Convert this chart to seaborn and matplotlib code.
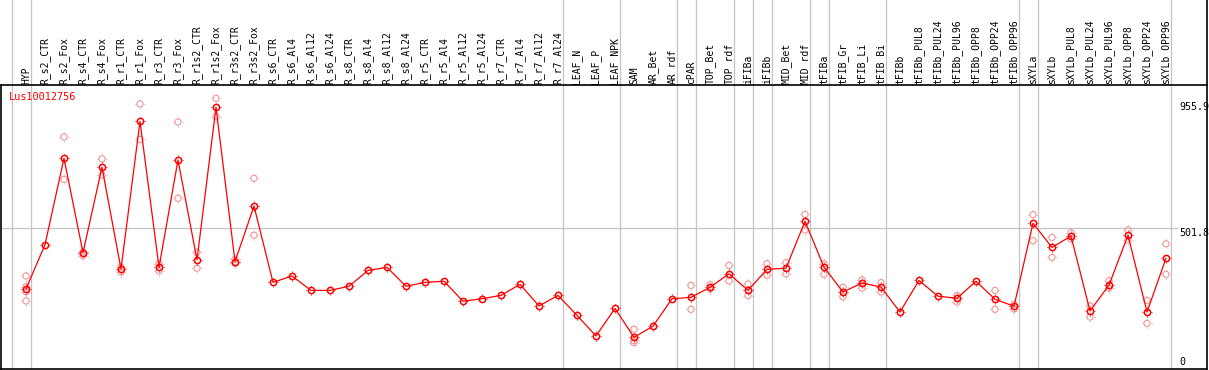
import numpy as np
import pandas as pd
import matplotlib
matplotlib.use("Agg")
import matplotlib.pyplot as plt
from matplotlib.path import Path
import seaborn as sns

# sample names (column headers)
samples = [
    "HYP", "R_s2_CTR", "R_s2_Fox", "R_s4_CTR", "R_s4_Fox", "R_r1_CTR", "R_r1_Fox",
    "R_r3_CTR", "R_r3_Fox", "R_r1s2_CTR", "R_r1s2_Fox", "R_r3s2_CTR", "R_r3s2_Fox",
    "R_s6_CTR", "R_s6_Al4", "R_s6_Al12", "R_s6_Al24", "R_s8_CTR", "R_s8_Al4",
    "R_s8_Al12", "R_s8_Al24", "R_r5_CTR", "R_r5_Al4", "R_r5_Al12", "R_r5_Al24",
    "R_r7_CTR", "R_r7_Al4", "R_r7_Al12", "R_r7_Al24", "LEAF_N", "LEAF_P", "LEAF_NPK",
    "SAM", "AR_Bet", "AR_rdf", "cPAR", "TOP_Bet", "TOP_rdf", "iFIBa", "iFIBb",
    "MID_Bet", "MID_rdf", "tFIBa", "tFIB_Gr", "tFIB_Li", "tFIB_Bi", "tFIBb",
    "tFIBb_PUL8", "tFIBb_PUL24", "tFIBb_PUL96", "tFIBb_OPP8", "tFIBb_OPP24",
    "tFIBb_OPP96", "sXYLa", "sXYLb", "sXYLb_PUL8", "sXYLb_PUL24", "sXYLb_PUL96",
    "sXYLb_OPP8", "sXYLb_OPP24", "sXYLb_OPP96",
]

# mean expression per sample
means = [
    281, 441, 752, 412, 720, 353, 885, 359, 746, 386, 936, 380, 580,
    305, 328, 276, 276, 291, 348, 359, 291, 305, 309, 237, 246,
    258, 298, 220, 258, 186, 112, 211,
    107, 147, 246, 251, 287, 336, 276, 352,
    356, 525, 360, 270, 303, 288, 198,
    312, 255, 248, 309, 244, 219,
    518, 431, 472, 202, 295, 475, 198, 392,
]

# single replicates (faint circles)
replicates = [
    [328, 289, 271, 238], [], [829, 676], [415, 401], [750, 692], [360, 342],
    [948, 820], [372, 346], [883, 608], [413, 356], [968, 902], [388, 374],
    [680, 475],
    [], [], [], [], [], [], [], [], [], [], [], [], [], [], [], [], [], [], [],
    [136, 95, 88], [], [], [294, 208], [297, 281], [366, 310], [299, 257],
    [372, 331], [376, 336], [550, 494], [372, 334], [287, 253], [314, 285],
    [304, 270], [], [], [], [258, 234], [], [276, 208], [226, 209],
    [549, 455], [467, 395], [484, 461], [220, 180], [311, 284], [494, 458],
    [240, 157], [444, 334],
]

# index of last sample in each group (separator lines)
group_ends = [-1, 0, 28, 31, 34, 35, 37, 38, 39, 41, 42, 45, 52, 53, 60]
gene = "Lus10012756"
scale_marks = [0, 501.8, 955.9]

mean_df = pd.DataFrame({"pos": np.arange(len(samples)), "value": means})
rep_df = pd.DataFrame(
    [(i, v) for i, vals in enumerate(replicates) for v in vals],
    columns=["pos", "value"],
)

sns.set_theme(style="white")
plt.rcParams["font.family"] = ["DejaVu Sans Mono"]

W, H = 1209, 370
fig = plt.figure(figsize=(W / 100, H / 100), dpi=100)
ax = fig.add_axes([1 / W, 1 / H, 1206 / W, 284 / H])

# four small ticks around each circle
ticks = Path(
    [(0, 0.8), (0, 1), (0, -0.8), (0, -1), (0.8, 0), (1, 0), (-0.8, 0), (-1, 0)],
    [Path.MOVETO, Path.LINETO] * 4,
)

x0 = -25 / 19
x1 = x0 + 1206 / 19
ax.set_xlim(x0, x1)
ax.set_ylim(-7.2, 1016.2)

grey = "#c4c4c4"
head = 1 + 85 / 284
for e in group_ends:
    ax.axvline(e + 0.25, ymin=0, ymax=head, color=grey, lw=0.9, clip_on=False, zorder=1)
ax.hlines(501.8, x0, (1178 - 26) / 19, color=grey, lw=0.9, zorder=1)
ax.axvline(x1, ymin=0, ymax=head, color="black", lw=1.2, clip_on=False)

pink = "#ee9c9c"
sns.scatterplot(data=rep_df, x="pos", y="value", marker="o", s=20,
                facecolor="none", edgecolor=pink, linewidth=0.85,
                zorder=2, ax=ax, legend=False)
sns.scatterplot(data=rep_df, x="pos", y="value", marker=ticks, s=44,
                facecolor="none", edgecolor=pink, linewidth=0.7,
                zorder=2, ax=ax, legend=False)
sns.lineplot(data=mean_df, x="pos", y="value", sort=False, color="red", lw=0.9,
             marker="o", markersize=4.5, markerfacecolor="none",
             markeredgecolor="red", markeredgewidth=1.1, zorder=3, ax=ax)
sns.scatterplot(data=mean_df, x="pos", y="value", marker=ticks, s=46,
                facecolor="none", edgecolor="red", linewidth=0.75,
                zorder=3, ax=ax, legend=False)

ax.set_xticks(np.arange(len(samples)))
ax.set_xticklabels(samples, rotation=90)
ax.xaxis.set_ticks_position("top")
ax.tick_params(axis="x", length=0, pad=1, labelsize=7, labelcolor="black",
               top=True, labeltop=True, bottom=False, labelbottom=False)
ax.set_yticks([])
ax.set_xlabel("")
ax.set_ylabel("")

for side in ["left", "bottom", "top"]:
    ax.spines[side].set_color("black")
    ax.spines[side].set_linewidth(1.2)
ax.spines["right"].set_visible(False)

xt = (1179 - 26) / 19
for v in scale_marks:
    ax.text(xt, v, f"{v:g}", fontsize=7.2, color="black",
            va="bottom" if v == 0 else "top", ha="left")

ax.text(8 / 1206, 1 - 7 / 284, gene, transform=ax.transAxes, color="red",
        fontsize=7.4, va="top", ha="left")

fig.savefig("out.png", dpi=100)
